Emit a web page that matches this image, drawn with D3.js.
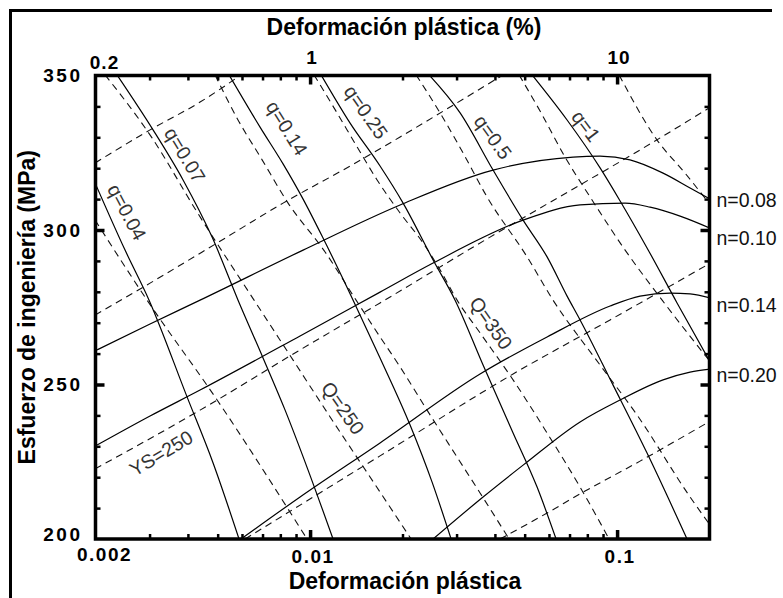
<!DOCTYPE html>
<html>
<head>
<meta charset="utf-8">
<script src="https://cdn.jsdelivr.net/npm/d3@7"></script>
<style>
  html, body { margin: 0; padding: 0; background: #fff; }
  svg { display: block; font-family: "Liberation Sans", Arial, sans-serif; }
</style>
</head>
<body>
<svg id="chart" width="783" height="598"></svg>
<script>
// ---- axis ticks and labels ----
const strainMinorTicks = [0.003, 0.004, 0.005, 0.006, 0.007, 0.008, 0.009,
                          0.02, 0.03, 0.04, 0.05, 0.06, 0.07, 0.08, 0.09];
const strainMajorTicks = [0.01, 0.1];
const bottomTickLabels = [[0.002, "0.002"], [0.01, "0.01"], [0.1, "0.1"]];
const topTickLabels = [[0.002, "0.2"], [0.01, "1"], [0.1, "10"]];
const stressMajorTicks = [250, 300];
const stressMinorTicks = [210, 220, 230, 240, 260, 270, 280, 290, 310, 320, 330, 340];
const stressTickLabels = [200, 250, 300, 350];

// ---- constant-n engineering curves (strain, stress MPa) ----
const n008 = [[0.002024, 261.2], [0.003011, 269.6], [0.004382, 277.3], [0.009489, 293.5],
              [0.01964, 308.1], [0.03945, 319.4], [0.0719, 323.6], [0.08803, 323.9],
              [0.1102, 322.7], [0.1412, 318.4], [0.1729, 313.6], [0.2009, 310.0]];
const n010 = [[0.002024, 230.4], [0.003011, 239.8], [0.004382, 248.2], [0.009277, 265.7],
              [0.0169, 279.9], [0.02516, 289.3], [0.04941, 303.2], [0.07577, 308.1],
              [0.1062, 308.7], [0.1281, 307.4], [0.1604, 304.5], [0.2009, 300.6]];
const n014 = [[0.005958, 200.0], [0.009277, 213.6], [0.0169, 231.1], [0.03578, 253.4],
              [0.05916, 265.4], [0.09489, 275.4], [0.1188, 278.6], [0.1488, 279.6],
              [0.1729, 279.3], [0.2009, 278.0]];
const n020 = [[0.02516, 200.0], [0.0366, 213.6], [0.04941, 223.9], [0.07577, 237.9],
              [0.1023, 245.0], [0.1412, 251.5], [0.1729, 254.0], [0.2009, 255.0]];

// ---- constant-q curves ----
const q004 = [[0.001994, 315.2], [0.002496, 293.5], [0.002989, 277.3], [0.003974, 246.0],
              [0.004831, 224.6], [0.005869, 200.0]];
const q007 = [[0.00235, 350.2], [0.00308, 332.4], [0.003857, 316.2], [0.004795, 297.7],
              [0.005826, 277.3], [0.007027, 258.6], [0.008291, 241.7], [0.009851, 222.3],
              [0.01188, 200.0]];
const q014 = [[0.005446, 350.2], [0.006871, 333.3], [0.008165, 321.4], [0.009489, 310.0],
              [0.01102, 297.4], [0.01381, 277.3], [0.0169, 258.6], [0.02117, 236.9],
              [0.02497, 218.4], [0.0288, 200.0]];
const q025 = [[0.01086, 350.2], [0.0135, 334.6], [0.0169, 320.7], [0.02009, 308.7],
              [0.02516, 290.3], [0.02967, 277.3], [0.0366, 256.3], [0.04584, 234.3],
              [0.05488, 216.8], [0.06329, 200.0]];
const q050 = [[0.02441, 350.2], [0.03081, 337.9], [0.03945, 319.4], [0.04941, 303.2],
              [0.05916, 291.3], [0.06873, 278.6], [0.07577, 270.9], [0.09705, 249.8],
              [0.1252, 227.8], [0.169, 200.0]];
const q100 = [[0.05285, 350.2], [0.06873, 335.6], [0.08803, 320.1], [0.1023, 309.4],
              [0.1252, 294.2], [0.1568, 276.4], [0.2009, 257.3]];

// ---- constant-Q lines ----
const Q200 = [[0.001994, 303.2], [0.002944, 277.3], [0.004979, 245.0], [0.009777, 200.0]];
const Q250 = [[0.002149, 350.2], [0.003056, 329.8], [0.004284, 305.8], [0.006569, 277.3],
              [0.008804, 257.9], [0.01162, 239.5], [0.0169, 215.2], [0.02133, 200.0]];
const Q300 = [[0.004904, 350.2], [0.005782, 336.2], [0.006978, 322.7], [0.008479, 308.7],
              [0.01119, 292.9], [0.01412, 277.3], [0.0169, 265.4], [0.01964, 255.7],
              [0.02405, 241.7], [0.03012, 226.5], [0.03578, 214.9], [0.04449, 200.0]];
const Q350 = [[0.0103, 350.2], [0.01224, 337.9], [0.01423, 326.9], [0.01653, 316.2],
              [0.01964, 305.5], [0.02334, 295.8], [0.02651, 287.1], [0.03012, 277.3],
              [0.03578, 266.7], [0.04584, 251.5], [0.05916, 234.3], [0.07577, 216.8],
              [0.09417, 200.0]];
const Q400 = [[0.02215, 350.2], [0.02651, 337.9], [0.03151, 324.9], [0.03771, 310.7],
              [0.05092, 291.3], [0.06187, 277.3], [0.08803, 256.3], [0.1162, 240.1],
              [0.1729, 213.6], [0.2039, 203.6]];
const Q450 = [[0.04796, 350.2], [0.05655, 337.9], [0.0677, 323.6], [0.08166, 310.7],
              [0.1062, 293.5], [0.1402, 277.3], [0.2039, 256.6]];
const Q500 = [[0.1015, 350.2], [0.135, 329.1], [0.1665, 318.4], [0.2039, 307.4]];

// ---- constant yield-stress lines ----
const YS150 = [[0.04157, 200.0], [0.05916, 208.4], [0.07577, 214.6], [0.1188, 225.2], [0.2039, 238.5]];
const YS200 = [[0.006141, 200.0], [0.0169, 226.9], [0.04584, 253.4], [0.09489, 270.9], [0.2039, 289.6]];
const YS250 = [[0.001994, 222.7], [0.004382, 241.7], [0.009277, 261.2], [0.0169, 276.4],
               [0.03857, 297.7], [0.07577, 314.6], [0.1188, 325.9], [0.2039, 340.1]];
const YS300 = [[0.001994, 272.5], [0.003011, 282.8], [0.004979, 295.8], [0.008165, 308.7],
               [0.0135, 320.7], [0.01964, 330.1], [0.02858, 339.8], [0.04253, 350.2]];
const YS350 = [[0.001994, 321.7], [0.003011, 332.4], [0.004382, 341.4], [0.005958, 350.2]];

const nLabels = ["n=0.08", "n=0.10", "n=0.14", "n=0.20"];
const nLabelStress = [309.7, 297.4, 275.7, 253.1];

// ---- layout ----
const W = 783, H = 598;
const plot = { left: 95.5, right: 709.5, top: 75.5, bottom: 539 };

const svg = d3.select("#chart");
const x = d3.scaleLog().domain([0.002, 0.2]).range([plot.left, plot.right]);
const y = d3.scaleLinear().domain([200, 350]).range([plot.bottom, plot.top]);

// outer figure border (top and left edges)
svg.append("path")
  .attr("d", `M10.5,${H} V10.5 H772`)
  .attr("fill", "none").attr("stroke", "#000").attr("stroke-width", 3);

svg.append("clipPath").attr("id", "plotClip")
  .append("rect")
  .attr("x", plot.left).attr("y", plot.top)
  .attr("width", plot.right - plot.left).attr("height", plot.bottom - plot.top);

const line = d3.line()
  .x(d => x(d[0])).y(d => y(d[1]))
  .curve(d3.curveMonotoneX);

const curves = svg.append("g").attr("clip-path", "url(#plotClip)");

const solidSeries = [n008, n010, n014, n020, q004, q007, q014, q025, q050, q100];
const dashedSeries = [Q200, Q250, Q300, Q350, Q400, Q450, Q500,
                      YS150, YS200, YS250, YS300, YS350];

curves.selectAll("path.dashed")
  .data(dashedSeries).join("path")
  .attr("class", "dashed")
  .attr("d", line)
  .attr("fill", "none").attr("stroke", "#111")
  .attr("stroke-width", 1.1)
  .attr("stroke-dasharray", "7,5");

curves.selectAll("path.solid")
  .data(solidSeries).join("path")
  .attr("class", "solid")
  .attr("d", line)
  .attr("fill", "none").attr("stroke", "#000")
  .attr("stroke-width", 1.2);

// ---- in-plot labels ----
const inlineLabels = [
  { text: "q=0.04", at: [0.002535, 305.8], angle: 62 },
  { text: "q=0.07", at: [0.003917, 324.3], angle: 59 },
  { text: "q=0.14", at: [0.008416, 333.0], angle: 58 },
  { text: "q=0.25", at: [0.01522, 338.2], angle: 55 },
  { text: "q=0.5",  at: [0.03945, 330.1], angle: 54 },
  { text: "q=1",    at: [0.07925, 333.7], angle: 53 },
  { text: "Q=250",  at: [0.0128, 242.4], angle: 55 },
  { text: "Q=350",  at: [0.03886, 269.9], angle: 55 },
  { text: "YS=250", at: [0.003271, 227.8], angle: -31 }
];

svg.append("g").selectAll("text")
  .data(inlineLabels).join("text")
  .attr("transform", d => `translate(${x(d.at[0])},${y(d.at[1])}) rotate(${d.angle})`)
  .attr("text-anchor", "middle")
  .attr("dominant-baseline", "central")
  .attr("font-size", 19.5)
  .attr("fill", "#333")
  .text(d => d.text);

svg.append("g").selectAll("text")
  .data(nLabels).join("text")
  .attr("x", plot.right + 7)
  .attr("y", (d, i) => y(nLabelStress[i]))
  .attr("dominant-baseline", "central")
  .attr("font-size", 19.5)
  .attr("fill", "#111")
  .text(d => d);

// ---- axes: inward ticks on all four sides ----
const axes = svg.append("g");
function styleTicks(g, width) {
  g.select(".domain").remove();
  g.selectAll(".tick line").attr("stroke", "#000").attr("stroke-width", width);
}
axes.append("g").attr("transform", `translate(0,${plot.bottom})`)
  .call(d3.axisBottom(x).tickValues(strainMinorTicks).tickSize(-5).tickFormat(""))
  .call(g => styleTicks(g, 2.5));
axes.append("g").attr("transform", `translate(0,${plot.bottom})`)
  .call(d3.axisBottom(x).tickValues(strainMajorTicks).tickSize(-9).tickFormat(""))
  .call(g => styleTicks(g, 3.5));
axes.append("g").attr("transform", `translate(0,${plot.top})`)
  .call(d3.axisTop(x).tickValues(strainMinorTicks).tickSize(-5).tickFormat(""))
  .call(g => styleTicks(g, 2.5));
axes.append("g").attr("transform", `translate(0,${plot.top})`)
  .call(d3.axisTop(x).tickValues(strainMajorTicks).tickSize(-9).tickFormat(""))
  .call(g => styleTicks(g, 3.5));
axes.append("g").attr("transform", `translate(${plot.left},0)`)
  .call(d3.axisLeft(y).tickValues(stressMinorTicks).tickSize(-5).tickFormat(""))
  .call(g => styleTicks(g, 2.5));
axes.append("g").attr("transform", `translate(${plot.left},0)`)
  .call(d3.axisLeft(y).tickValues(stressMajorTicks).tickSize(-9).tickFormat(""))
  .call(g => styleTicks(g, 3.5));
axes.append("g").attr("transform", `translate(${plot.right},0)`)
  .call(d3.axisRight(y).tickValues(stressMinorTicks).tickSize(-5).tickFormat(""))
  .call(g => styleTicks(g, 2.5));
axes.append("g").attr("transform", `translate(${plot.right},0)`)
  .call(d3.axisRight(y).tickValues(stressMajorTicks).tickSize(-9).tickFormat(""))
  .call(g => styleTicks(g, 3.5));

// plot frame
svg.append("rect")
  .attr("x", plot.left).attr("y", plot.top)
  .attr("width", plot.right - plot.left).attr("height", plot.bottom - plot.top)
  .attr("fill", "none").attr("stroke", "#000").attr("stroke-width", 3.5);

// tick labels
const tickFont = { size: 19, weight: "bold" };
svg.append("g").selectAll("text")
  .data(stressTickLabels).join("text")
  .attr("x", plot.left - 13)
  .attr("y", d => y(d) - (d === 200 ? 5 : 0))
  .attr("text-anchor", "end")
  .attr("dominant-baseline", "central")
  .attr("font-size", tickFont.size).attr("font-weight", tickFont.weight)
  .attr("letter-spacing", 2.5)
  .text(d => d);

svg.append("g").selectAll("text")
  .data(bottomTickLabels).join("text")
  .attr("x", (d, i) => x(d[0]) + (i === 0 ? 9 : 3))
  .attr("y", (d, i) => plot.bottom + (i === 0 ? 22 : 24))
  .attr("text-anchor", "middle")
  .attr("font-size", tickFont.size).attr("font-weight", tickFont.weight)
  .attr("letter-spacing", 1.5)
  .text(d => d[1]);

svg.append("g").selectAll("text")
  .data(topTickLabels).join("text")
  .attr("x", (d, i) => x(d[0]) + (i === 0 ? 9 : 2))
  .attr("y", (d, i) => plot.top - (i === 0 ? 7 : 12))
  .attr("text-anchor", "middle")
  .attr("font-size", tickFont.size).attr("font-weight", tickFont.weight)
  .attr("letter-spacing", 1)
  .text(d => d[1]);

// axis titles
svg.append("text")
  .attr("x", 404).attr("y", 35)
  .attr("text-anchor", "middle")
  .attr("font-size", 23).attr("font-weight", "bold")
  .text("Deformación plástica (%)");

svg.append("text")
  .attr("x", 405).attr("y", 589)
  .attr("text-anchor", "middle")
  .attr("font-size", 23).attr("font-weight", "bold")
  .text("Deformación plástica");

svg.append("text")
  .attr("transform", `translate(35,${(plot.top + plot.bottom) / 2}) rotate(-90)`)
  .attr("text-anchor", "middle")
  .attr("font-size", 23).attr("font-weight", "bold")
  .text("Esfuerzo de ingeniería (MPa)");
</script>
</body>
</html>
